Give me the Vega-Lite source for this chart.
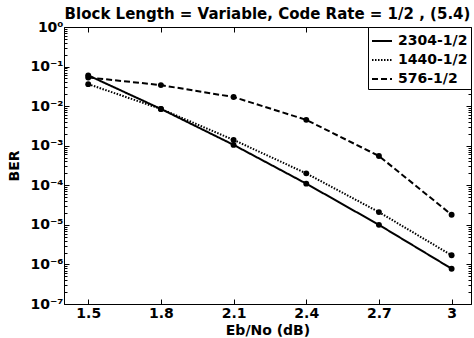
{
  "$schema": "https://vega.github.io/schema/vega-lite/v6.json",
  "width": 407,
  "height": 277,
  "autosize": {"type": "none"},
  "padding": {"left": 64, "top": 27, "right": 3, "bottom": 34},
  "background": "white",
  "title": {
    "text": "Block Length = Variable, Code Rate = 1/2 , (5.4)",
    "font": "DejaVu Sans",
    "fontSize": 15,
    "fontWeight": "bold",
    "color": "black",
    "offset": -2,
    "anchor": "middle"
  },
  "config": {
    "view": {"stroke": "black", "strokeWidth": 1},
    "axis": {
      "labelFont": "DejaVu Sans",
      "labelFontSize": 14,
      "labelFontWeight": "bold",
      "labelColor": "black",
      "titleFont": "DejaVu Sans",
      "titleFontSize": 14,
      "titleFontWeight": "bold",
      "titleColor": "black",
      "domainColor": "black",
      "tickColor": "black",
      "grid": false
    }
  },
  "data": {
    "values": [
      {"ebno": 1.5, "ber": 0.06, "series": "2304-1/2"},
      {"ebno": 1.8, "ber": 0.0085, "series": "2304-1/2"},
      {"ebno": 2.1, "ber": 0.00105, "series": "2304-1/2"},
      {"ebno": 2.4, "ber": 0.00011, "series": "2304-1/2"},
      {"ebno": 2.7, "ber": 0.00001, "series": "2304-1/2"},
      {"ebno": 3.0, "ber": 0.00000078, "series": "2304-1/2"},
      {"ebno": 1.5, "ber": 0.036, "series": "1440-1/2"},
      {"ebno": 1.8, "ber": 0.0085, "series": "1440-1/2"},
      {"ebno": 2.1, "ber": 0.0014, "series": "1440-1/2"},
      {"ebno": 2.4, "ber": 0.0002, "series": "1440-1/2"},
      {"ebno": 2.7, "ber": 0.000021, "series": "1440-1/2"},
      {"ebno": 3.0, "ber": 0.0000017, "series": "1440-1/2"},
      {"ebno": 1.5, "ber": 0.053, "series": "576-1/2"},
      {"ebno": 1.8, "ber": 0.034, "series": "576-1/2"},
      {"ebno": 2.1, "ber": 0.017, "series": "576-1/2"},
      {"ebno": 2.4, "ber": 0.0045, "series": "576-1/2"},
      {"ebno": 2.7, "ber": 0.00055, "series": "576-1/2"},
      {"ebno": 3.0, "ber": 0.000018, "series": "576-1/2"}
    ]
  },
  "layer": [
    {
      "mark": {"type": "line", "color": "black", "strokeWidth": 2, "clip": true},
      "encoding": {
        "x": {
          "field": "ebno", "type": "quantitative",
          "scale": {"domain": [1.4, 3.08], "nice": false, "zero": false},
          "axis": {
            "title": "Eb/No (dB)",
            "values": [1.5, 1.8, 2.1, 2.4, 2.7, 3],
            "labelExpr": "format(datum.value, '.2~f')",
            "tickSize": -5,
            "labelPadding": 7,
            "titlePadding": 3
          }
        },
        "y": {
          "field": "ber", "type": "quantitative",
          "scale": {"type": "log", "domain": [1e-7, 1], "nice": false},
          "axis": {
            "title": "BER",
            "titlePadding": 8,
            "values": [1e-7,2e-7,3e-7,4e-7,5e-7,6e-7,7e-7,8e-7,9e-7,1e-6,2e-6,3e-6,4e-6,5e-6,6e-6,7e-6,8e-6,9e-6,1e-5,2e-5,3e-5,4e-5,5e-5,6e-5,7e-5,8e-5,9e-5,1e-4,2e-4,3e-4,4e-4,5e-4,6e-4,7e-4,8e-4,9e-4,1e-3,2e-3,3e-3,4e-3,5e-3,6e-3,7e-3,8e-3,9e-3,1e-2,2e-2,3e-2,4e-2,5e-2,6e-2,7e-2,8e-2,9e-2,0.1,0.2,0.3,0.4,0.5,0.6,0.7,0.8,0.9,1],
            "labelExpr": "abs(log(datum.value)/LN10 - round(log(datum.value)/LN10)) > 0.01 ? '' : datum.value > 0.5 ? '10⁰' : datum.value > 0.05 ? '10⁻¹' : datum.value > 0.005 ? '10⁻²' : datum.value > 0.0005 ? '10⁻³' : datum.value > 0.00005 ? '10⁻⁴' : datum.value > 0.000005 ? '10⁻⁵' : datum.value > 0.0000005 ? '10⁻⁶' : '10⁻⁷'",
            "tickSize": {"condition": {"test": "abs(log(datum.value)/LN10 - round(log(datum.value)/LN10)) < 0.01", "value": -5}, "value": -3},
            "labelPadding": 6
          }
        },
        "strokeDash": {
          "field": "series", "type": "nominal",
          "sort": ["2304-1/2", "1440-1/2", "576-1/2"],
          "scale": {"domain": ["2304-1/2", "1440-1/2", "576-1/2"], "range": [[1, 0], [1.5, 1.5], [6, 3]]},
          "legend": {
            "title": null,
            "orient": "top-right",
            "offset": 0,
            "strokeColor": "black",
            "fillColor": "white",
            "padding": 3,
            "rowPadding": 1,
            "labelOffset": 5,
            "labelFont": "DejaVu Sans",
            "labelFontSize": 14,
            "labelFontWeight": "bold",
            "labelColor": "black",
            "symbolType": "stroke",
            "symbolSize": 400,
            "symbolStrokeWidth": 2,
            "symbolStrokeColor": "black"
          }
        }
      }
    },
    {
      "mark": {"type": "point", "filled": true, "color": "black", "size": 35, "opacity": 1},
      "encoding": {
        "x": {
          "field": "ebno", "type": "quantitative",
          "axis": {"orient": "top", "labels": false, "title": null, "values": [1.5, 1.8, 2.1, 2.4, 2.7, 3], "tickSize": -5, "domain": false}
        },
        "y": {
          "field": "ber", "type": "quantitative",
          "axis": {"orient": "right", "labels": false, "title": null, "domain": false,
            "values": [1e-7,2e-7,3e-7,4e-7,5e-7,6e-7,7e-7,8e-7,9e-7,1e-6,2e-6,3e-6,4e-6,5e-6,6e-6,7e-6,8e-6,9e-6,1e-5,2e-5,3e-5,4e-5,5e-5,6e-5,7e-5,8e-5,9e-5,1e-4,2e-4,3e-4,4e-4,5e-4,6e-4,7e-4,8e-4,9e-4,1e-3,2e-3,3e-3,4e-3,5e-3,6e-3,7e-3,8e-3,9e-3,1e-2,2e-2,3e-2,4e-2,5e-2,6e-2,7e-2,8e-2,9e-2,0.1,0.2,0.3,0.4,0.5,0.6,0.7,0.8,0.9,1],
            "tickSize": {"condition": {"test": "abs(log(datum.value)/LN10 - round(log(datum.value)/LN10)) < 0.01", "value": -5}, "value": -3}
          }
        }
      }
    }
  ],
  "resolve": {"axis": {"x": "independent", "y": "independent"}}
}
